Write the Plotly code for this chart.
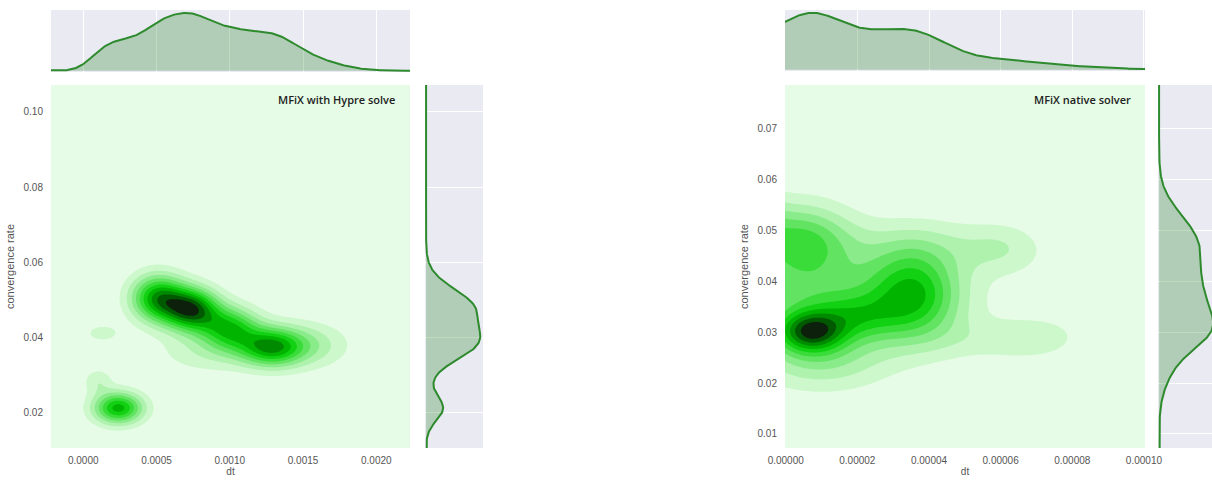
import numpy as np
import plotly.graph_objects as go

# ---------------- data (kernel components) ----------------
# Left panel: MFiX with Hypre solve
hypre_dt      = [0.00051, 0.00074, 0.00100, 0.00128, 0.00152, 0.00085, 0.00013, 0.00024, 0.00010]
hypre_rate    = [0.0505, 0.0475, 0.0425, 0.0375, 0.0380, 0.0360, 0.0412, 0.0213, 0.0285]
hypre_dt_bw   = [0.00013, 0.00013, 0.00014, 0.00015, 0.00020, 0.00025, 0.00009, 0.00012, 0.00007]
hypre_rate_bw = [0.0044, 0.0040, 0.0040, 0.0036, 0.0042, 0.0040, 0.0018, 0.0030, 0.0024]
hypre_weight  = [0.72, 0.85, 0.60, 0.65, 0.25, 0.15, 0.14, 0.70, 0.16]

# Right panel: MFiX native solver
native_dt      = [0.0000070, 0.0000100, 0.0000040, 0.0000360, 0.0000600, 0.0000680, 0.0000550,
                  0.0000800, 0.0000100, 0.0000200, 0.0000370, -0.0000120, 0.0000500]
native_rate    = [0.0300, 0.0350, 0.0480, 0.0375, 0.0465, 0.0285, 0.0360, 0.0350, 0.0240, 0.0330,
                  0.0470, 0.0520, 0.0285]
native_dt_bw   = [0.0000065, 0.0000180, 0.0000100, 0.0000090, 0.0000080, 0.0000090, 0.0000120,
                  0.0000120, 0.0000120, 0.0000080, 0.0000130, 0.0000060, 0.0000110]
native_rate_bw = [0.0028, 0.0075, 0.0050, 0.0060, 0.0035, 0.0028, 0.0070, 0.0080, 0.0040, 0.0030,
                  0.0040, 0.0040, 0.0030]
native_weight  = [0.55, 0.35, 0.40, 0.50, 0.14, 0.10, 0.02, 0.04, 0.15, 0.20, 0.12, 0.40, 0.07]

hypre_xticks = [0.0, 0.0005, 0.0010, 0.0015, 0.0020]
hypre_xtext = ["0.0000", "0.0005", "0.0010", "0.0015", "0.0020"]
hypre_yticks = [0.02, 0.04, 0.06, 0.08, 0.10]
hypre_ytext = ["0.02", "0.04", "0.06", "0.08", "0.10"]
native_xticks = [0.0, 0.00002, 0.00004, 0.00006, 0.00008, 0.00010]
native_xtext = ["0.00000", "0.00002", "0.00004", "0.00006", "0.00008", "0.00010"]
native_yticks = [0.01, 0.02, 0.03, 0.04, 0.05, 0.06, 0.07]
native_ytext = ["0.01", "0.02", "0.03", "0.04", "0.05", "0.06", "0.07"]

titles = ["MFiX with Hypre solve", "MFiX native solver"]

# ---------------- styling ----------------
W, H = 1212, 481
LEVEL_COLORS = ["#E6FCE6", "#CCF8CC", "#AEF2AE", "#8AEB8A", "#62E462", "#3ADC3A",
                "#12D012", "#00B400", "#008A00", "#005800", "#0C200C"]
NLEV = len(LEVEL_COLORS) - 1
LINE = "#2d8a2d"
FILL = "rgba(45,138,45,0.30)"
TICKFONT = dict(family="Liberation Sans, Arial, sans-serif", size=10, color="#555555")


def density(xs, ys, cx, cy, sx, sy, w):
    X, Y = np.meshgrid(xs, ys)
    Z = np.zeros_like(X)
    for a, b, c, d, e in zip(cx, cy, sx, sy, w):
        Z += e * np.exp(-0.5 * ((X - a) / c) ** 2 - 0.5 * ((Y - b) / d) ** 2)
    return Z


def smooth(v, step, bw):
    k = np.arange(-int(4 * bw / step) - 1, int(4 * bw / step) + 2) * step
    ker = np.exp(-0.5 * (k / bw) ** 2)
    ker /= ker.sum()
    return np.convolve(v, ker, mode="same")


def px(x):
    return x / W


def py(y):
    return 1 - y / H


fig = go.Figure()
cs = [[i / NLEV, c] for i, c in enumerate(LEVEL_COLORS)]

panels = [
    dict(cx=hypre_dt, cy=hypre_rate, sx=hypre_dt_bw, sy=hypre_rate_bw, w=hypre_weight,
         gx=(-0.0008, 0.0028), gy=(-0.01, 0.13), xr=[-0.00022, 0.00223], yr=[0.0107, 0.1071],
         xt=(hypre_xticks, hypre_xtext), yt=(hypre_yticks, hypre_ytext),
         mbx=0.00004, mby=0.0014,
         main=(51, 410), top=(10, 72), side=(425, 483), side_frac=1.0, ax=1, title=titles[0], tx=397),
    dict(cx=native_dt, cy=native_rate, sx=native_dt_bw, sy=native_rate_bw, w=native_weight,
         gx=(-0.00005, 0.00014), gy=(-0.01, 0.10), xr=[-0.0000002, 0.0001003], yr=[0.00725, 0.0785],
         xt=(native_xticks, native_xtext), yt=(native_yticks, native_ytext),
         mbx=0.000003, mby=0.0012,
         main=(785, 1145), top=(10, 71), side=(1158, 1212), side_frac=54 / 58, ax=4, title=titles[1], tx=1133),
]

MAIN_Y = (85, 448)
layout = {}
for p in panels:
    gx = np.linspace(p["gx"][0], p["gx"][1], 500)
    gy = np.linspace(p["gy"][0], p["gy"][1], 500)
    Z = density(gx, gy, p["cx"], p["cy"], p["sx"], p["sy"], p["w"])
    zmax = Z.max()
    lv = zmax / (NLEV + 1)
    a = p["ax"]
    sfx = lambda n: "" if n == 1 else str(n)
    xm, ym = "x" + sfx(a), "y" + sfx(a)
    xt_, yt_ = "x" + sfx(a + 1), "y" + sfx(a + 1)
    xs_, ys_ = "x" + sfx(a + 2), "y" + sfx(a + 2)

    fig.add_trace(go.Contour(
        x=gx, y=gy, z=Z, xaxis=xm, yaxis=ym, autocontour=False,
        contours=dict(start=lv, end=lv * NLEV, size=lv, coloring="fill", showlines=False),
        line=dict(width=0), colorscale=cs, showscale=False, hoverinfo="skip"))

    mx = smooth(Z.sum(axis=0), gx[1] - gx[0], p["mbx"])
    my = smooth(Z.sum(axis=1), gy[1] - gy[0], p["mby"])
    fig.add_trace(go.Scatter(x=gx, y=mx, xaxis=xt_, yaxis=yt_, mode="lines", fill="tozeroy",
                             line=dict(color=LINE, width=2), fillcolor=FILL, hoverinfo="skip",
                             showlegend=False))
    fig.add_trace(go.Scatter(x=my, y=gy, xaxis=xs_, yaxis=ys_, mode="lines", fill="tozerox",
                             line=dict(color=LINE, width=2), fillcolor=FILL, hoverinfo="skip",
                             showlegend=False))

    vis_x = (gx >= p["xr"][0]) & (gx <= p["xr"][1])
    mxv = mx[vis_x].max()
    myv = my.max()
    xdom = [px(p["main"][0]), px(p["main"][1])]
    ydom = [py(MAIN_Y[1]), py(MAIN_Y[0])]
    name = lambda s, n: s + ("" if n == 1 else str(n))
    layout[name("xaxis", a)] = dict(domain=xdom, range=p["xr"], anchor=ym, tickvals=p["xt"][0],
                                    ticktext=p["xt"][1], showgrid=False, zeroline=False, automargin=False,
                                    ticks="outside", ticklen=3, tickcolor="rgba(0,0,0,0)",
                                    tickfont=TICKFONT, title=dict(text="dt", font=TICKFONT, standoff=2))
    layout[name("yaxis", a)] = dict(domain=ydom, range=p["yr"], anchor=xm, tickvals=p["yt"][0],
                                    ticktext=p["yt"][1], showgrid=False, zeroline=False, automargin=False,
                                    ticks="outside", ticklen=5, tickcolor="rgba(0,0,0,0)",
                                    tickfont=TICKFONT,
                                    title=dict(text="convergence rate", font=dict(TICKFONT, size=11), standoff=6))
    layout[name("xaxis", a + 1)] = dict(domain=xdom, range=p["xr"], anchor=yt_, tickvals=p["xt"][0],
                                        showticklabels=False, showgrid=True, gridcolor="white",
                                        gridwidth=1, zeroline=False, ticks="", automargin=False)
    layout[name("yaxis", a + 1)] = dict(domain=[py(p["top"][1]), py(p["top"][0])],
                                        range=[-0.02 * mxv, 1.05 * mxv], anchor=xt_, automargin=False,
                                        showticklabels=False, showgrid=False, zeroline=False, ticks="")
    layout[name("xaxis", a + 2)] = dict(domain=[px(p["side"][0]), min(1.0, px(p["side"][1]))],
                                        range=[-0.02 * myv, 1.05 * myv * p["side_frac"]], anchor=ys_,
                                        showticklabels=False, showgrid=False, zeroline=False, ticks="",
                                        automargin=False)
    layout[name("yaxis", a + 2)] = dict(domain=ydom, range=p["yr"], anchor=xs_, tickvals=p["yt"][0],
                                        showticklabels=False, showgrid=True, gridcolor="white",
                                        gridwidth=1, zeroline=False, ticks="", automargin=False)
    fig.add_annotation(text=p["title"], xref="paper", yref="paper", x=px(p["tx"]), y=py(99),
                       xanchor="right", yanchor="middle", showarrow=False,
                       font=dict(family="Open Sans, sans-serif", size=11, color="#222222", weight=600))

fig.update_layout(width=W, height=H, margin=dict(l=0, r=0, t=0, b=0, autoexpand=False),
                  paper_bgcolor="white", plot_bgcolor="#EAEAF2", showlegend=False, **layout)
fig.write_html("out.html", config={"displayModeBar": False},
               post_script="document.body.style.margin='0';document.body.style.overflow='hidden';")
